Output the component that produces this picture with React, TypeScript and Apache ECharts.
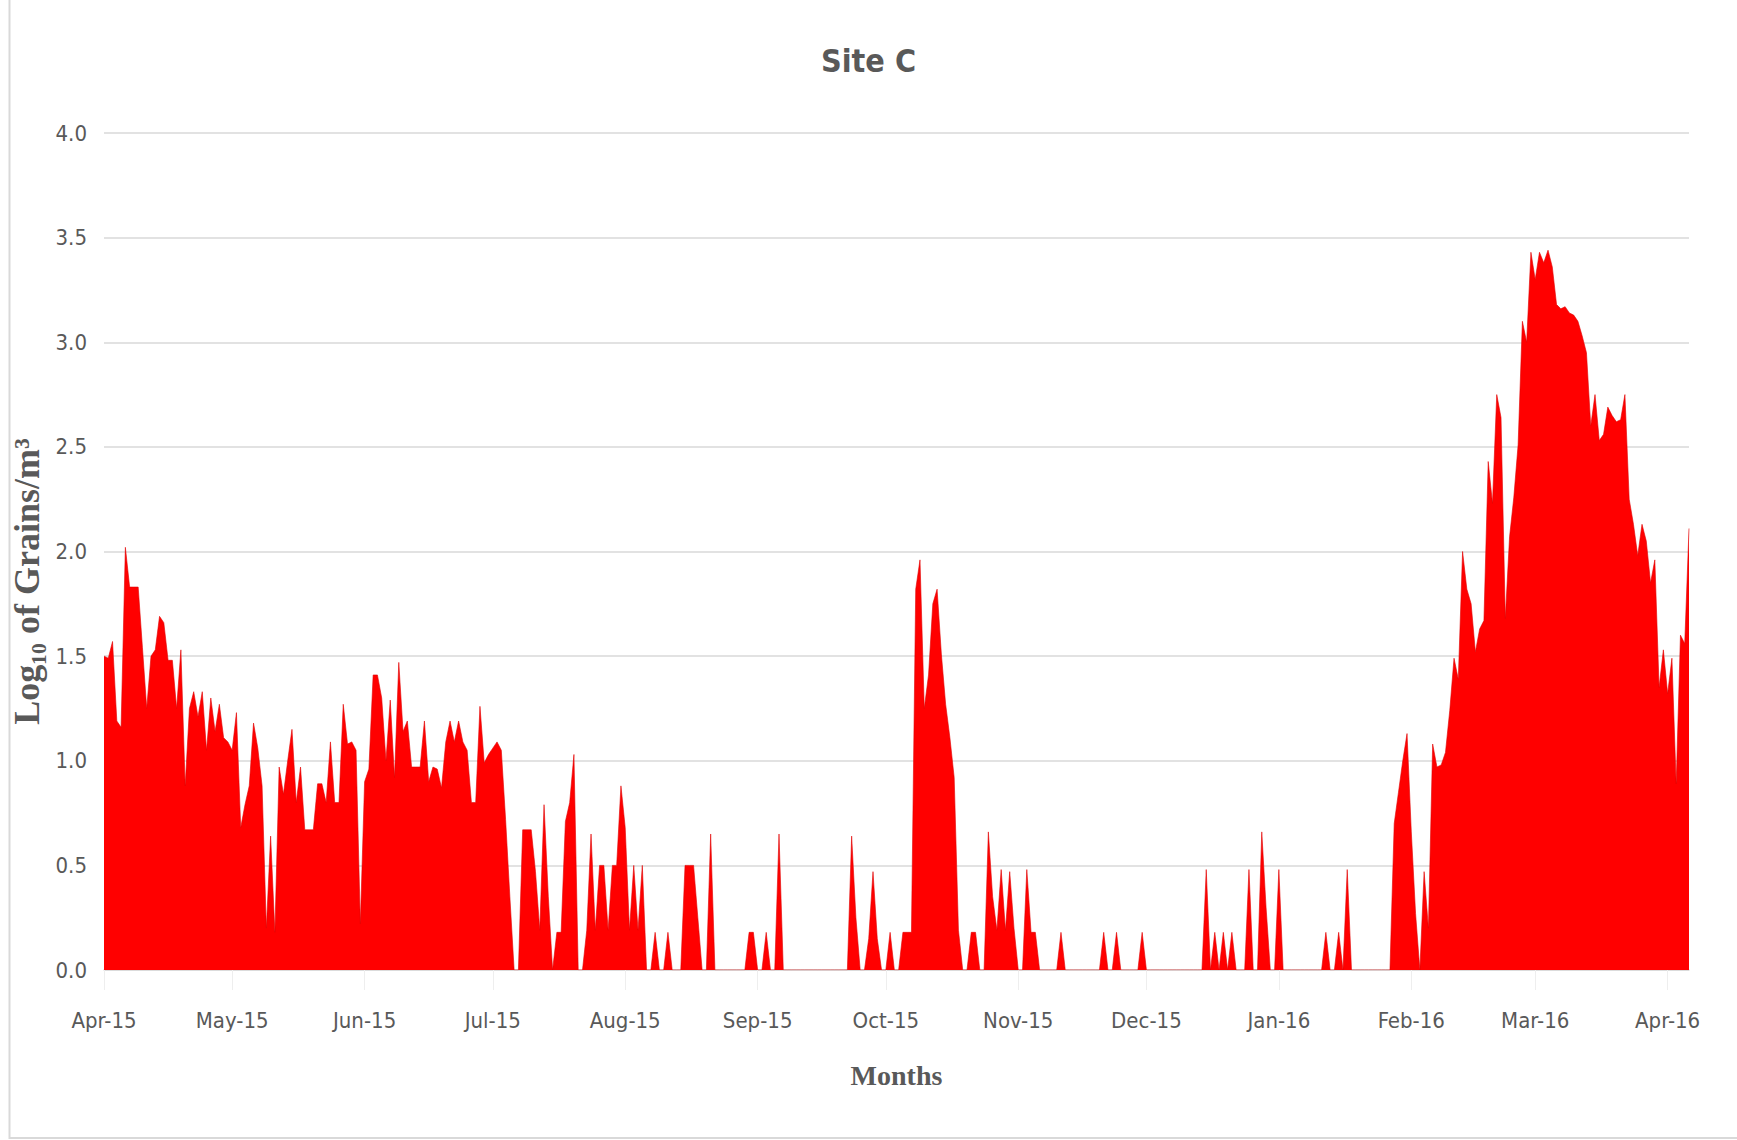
import React, { useEffect, useRef } from "react";
import * as echarts from "echarts";

// Daily log10 pollen counts, Site C, 1 Apr 2015 – 6 Apr 2016
const apr15 = [1.50,1.49,1.57,1.19,1.16,2.02,1.83,1.83,1.83,1.54,1.25,1.50,1.53,1.69,1.66,1.48,1.48,1.25,1.53,0.88,1.25,1.33,1.21,1.33,1.05,1.30,1.14,1.27,1.11,1.09];
const may15 = [1.05,1.23,0.68,0.79,0.88,1.18,1.06,0.88,0.20,0.64,0.18,0.97,0.84,1.00,1.15,0.80,0.97,0.67,0.67,0.67,0.89,0.89,0.80,1.09,0.80,0.80,1.27,1.08,1.09,1.05,0.22];
const jun15 = [0.90,0.96,1.41,1.41,1.30,1.00,1.29,0.92,1.47,1.14,1.19,0.97,0.97,0.97,1.19,0.90,0.97,0.96,0.87,1.09,1.19,1.09,1.19,1.09,1.05,0.80,0.80,1.26,0.99,1.03];
const jul15 = [1.06,1.09,1.05,0.72,0.35,0,0,0.67,0.67,0.67,0.47,0.19,0.79,0.35,0,0.18,0.18,0.71,0.80,1.03,0,0,0.19,0.65,0.19,0.50,0.50,0.19,0.50,0.50,0.88];
const aug15 = [0.68,0.19,0.50,0.19,0.50,0,0,0.18,0,0,0.18,0,0,0,0.50,0.50,0.50,0.25,0,0,0.65,0,0,0,0,0,0,0,0,0.18,0.18];
const sep15 = [0,0,0.18,0,0,0.65,0,0,0,0,0,0,0,0,0,0,0,0,0,0,0,0,0.64,0.25,0,0,0.15,0.47,0.15,0];
const oct15 = [0,0.18,0,0,0.18,0.18,0.18,1.82,1.96,1.25,1.41,1.75,1.82,1.51,1.27,1.11,0.92,0.19,0,0,0.18,0.18,0,0,0.66,0.35,0.19,0.48,0.19,0.47,0.20];
const nov15 = [0,0,0.48,0.18,0.18,0,0,0,0,0,0.18,0,0,0,0,0,0,0,0,0,0.18,0,0,0.18,0,0,0,0,0,0.18];
const dec15 = [0,0,0,0,0,0,0,0,0,0,0,0,0,0,0.48,0,0.18,0,0.18,0,0.18,0,0,0,0.48,0,0,0.66,0.30,0,0];
const jan16 = [0.48,0,0,0,0,0,0,0,0,0,0,0.18,0,0,0.18,0,0.48,0,0,0,0,0,0,0,0,0,0,0.70,0.85,1.00,1.13];
const feb16 = [0.66,0.27,0,0.47,0.20,1.08,0.97,0.98,1.04,1.24,1.49,1.39,2.00,1.82,1.75,1.52,1.63,1.67,2.43,2.23,2.75,2.64,1.68,2.07,2.26,2.51,3.10,3.00,3.43];
const mar16 = [3.30,3.43,3.38,3.44,3.36,3.18,3.16,3.17,3.14,3.13,3.10,3.03,2.95,2.60,2.75,2.53,2.56,2.69,2.65,2.62,2.63,2.75,2.25,2.13,1.98,2.13,2.05,1.85,1.96,1.35,1.53];
const apr16 = [1.32,1.49,0.89,1.60,1.56,2.11];

const values = [...apr15, ...may15, ...jun15, ...jul15, ...aug15, ...sep15, ...oct15, ...nov15, ...dec15, ...jan16, ...feb16, ...mar16, ...apr16];

const MONTHS = ["Jan","Feb","Mar","Apr","May","Jun","Jul","Aug","Sep","Oct","Nov","Dec"];
const START_UTC = Date.UTC(2015, 3, 1);
const dates = values.map((_, i) => new Date(START_UTC + i * 86400000).toISOString().slice(0, 10));

const yTicks = [0, 0.5, 1, 1.5, 2, 2.5, 3, 3.5, 4];

const isMonthStart = (_i: number, v: string) => v.endsWith("-01");
const monthLabel = (v: string) => {
  const y = v.slice(2, 4);
  const m = parseInt(v.slice(5, 7), 10) - 1;
  return `${MONTHS[m]}-${y}`;
};

const SANS = "'Liberation Sans Narrow', 'DejaVu Sans Condensed', sans-serif";
const SERIF = "'Liberation Serif', 'DejaVu Serif', serif";

export default function App() {
  const ref = useRef<HTMLDivElement>(null);
  useEffect(() => {
    if (!ref.current) return;
    const chart = echarts.init(ref.current, null, { renderer: "svg" });
    chart.setOption({
      animation: false,
      backgroundColor: "#ffffff",
      title: {
        text: "Site C",
        left: "center",
        top: 40,
        textStyle: { fontFamily: SANS, fontSize: 32, fontWeight: "bold", color: "#595959" },
      },
      graphic: [
        {
          type: "rect",
          shape: { x: 9.5, y: -10, width: 1800, height: 1148 },
          style: { fill: "none", stroke: "#d9d9d9", lineWidth: 2 },
          silent: true,
        },
      ],
      grid: { left: 104, right: 48, top: 133, bottom: 170 },
      xAxis: {
        type: "category",
        data: dates,
        boundaryGap: false,
        name: "Months",
        nameLocation: "middle",
        nameGap: 91,
        nameTextStyle: { fontFamily: SERIF, fontSize: 28, fontWeight: "bold", color: "#595959" },
        axisLine: { show: true, lineStyle: { color: "#d9d9d9", width: 1.5 } },
        axisTick: { show: true, interval: isMonthStart, length: 20, lineStyle: { color: "#eeeeee", width: 1 } },
        axisLabel: {
          interval: isMonthStart,
          formatter: monthLabel,
          margin: 39,
          fontFamily: SANS,
          fontSize: 22,
          color: "#595959",
        },
        splitLine: { show: false },
      },
      yAxis: {
        type: "value",
        min: yTicks[0],
        max: yTicks[yTicks.length - 1],
        interval: 0.5,
        name: "Log\u2081\u2080 of Grains/m\u00b3",
        nameLocation: "middle",
        nameGap: 54,
        nameRotate: 90,
        nameTextStyle: {
          fontFamily: SERIF,
          fontSize: 36,
          fontWeight: "bold",
          color: "#595959",
          padding: [0, 60, 0, 0],
        },
        axisLine: { show: false },
        axisTick: { show: false },
        axisLabel: {
          formatter: (v: number) => v.toFixed(1),
          margin: 17,
          fontFamily: SANS,
          fontSize: 22,
          color: "#595959",
        },
        splitLine: { show: true, lineStyle: { color: "#d9d9d9", width: 1.5 } },
      },
      series: [
        {
          type: "line",
          data: values,
          symbol: "none",
          showSymbol: false,
          lineStyle: { width: 0.6, color: "#e00000" },
          areaStyle: { color: "#ff0000", opacity: 1 },
          z: 3,
        },
      ],
    });
    return () => chart.dispose();
  }, []);
  return (
    <div
      ref={ref}
      style={{ position: "fixed", left: 0, top: 0, width: 1737, height: 1140 }}
    />
  );
}
